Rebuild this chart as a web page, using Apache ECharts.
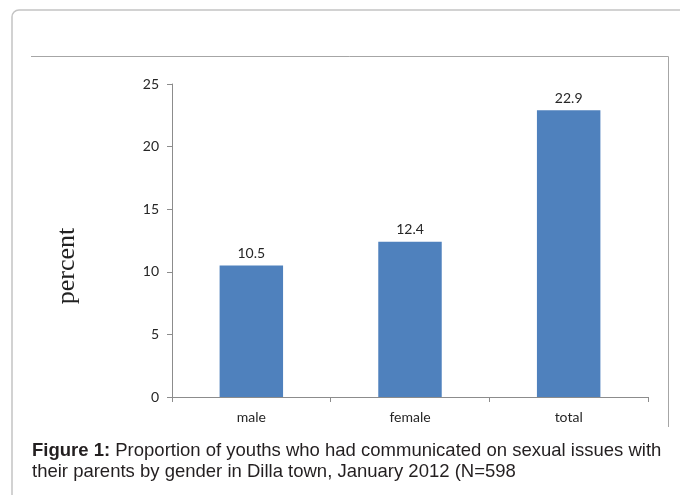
<!DOCTYPE html>
<html><head><meta charset="utf-8">
<script src="https://cdn.jsdelivr.net/npm/echarts@6/dist/echarts.min.js"></script>
<style>html,body{margin:0;padding:0;background:#fff}#c{width:680px;height:495px}</style>
</head><body><div id="c"></div>
<script>
const categories = ['male', 'female', 'total'];
const percentValues = [10.5, 12.4, 22.9];
const yTicks = [0, 5, 10, 15, 20, 25];

const chart = echarts.init(document.getElementById('c'), null, {renderer: 'canvas'});
chart.setOption({
  animation: false,
  backgroundColor: '#fff',
  grid: {left: 172, right: 32, top: 84, bottom: 98, containLabel: false},
  xAxis: {
    type: 'category', data: categories,
    axisLine: {lineStyle: {color: '#8c8c8c', width: 1}},
    axisTick: {show: true, length: 5, inside: false, lineStyle: {color: '#8c8c8c'}},
    axisLabel: {color: '#262626', fontFamily: 'Lato', fontSize: 14, margin: 13}
  },
  yAxis: {
    type: 'value', min: yTicks[0], max: yTicks[yTicks.length - 1], interval: 5,
    axisLine: {show: true, lineStyle: {color: '#8c8c8c', width: 1}},
    axisTick: {show: true, length: 5, lineStyle: {color: '#8c8c8c'}},
    splitLine: {show: false},
    axisLabel: {color: '#262626', fontFamily: 'Lato', fontSize: 14, margin: 13}
  },
  series: [{
    type: 'bar', data: percentValues, barCategoryGap: '60%',
    itemStyle: {color: '#4f81bd'},
    label: {show: true, position: 'top', distance: 5, color: '#262626', fontFamily: 'Lato', fontSize: 14,
      formatter: p => p.value.toFixed(1)}
  }],
  graphic: [
    {type: 'rect', shape: {x: 12, y: 10, width: 720, height: 540, r: 7},
     style: {fill: 'none', stroke: '#c4c4c4', lineWidth: 1.5}, silent: true},
    {type: 'polyline', shape: {points: [[31, 56.5], [668.5, 56.5], [668.5, 427]]},
     style: {fill: 'none', stroke: '#a6a6a6', lineWidth: 1}, silent: true},
    {type: 'text', x: 67, y: 266, rotation: Math.PI / 2,
     style: {text: 'percent', font: '26px "Liberation Serif", "DejaVu Serif", serif', fill: '#222',
       textAlign: 'center', textVerticalAlign: 'middle'}},
    {type: 'text', x: 32, y: 440,
     style: {
       text: '{b|Figure 1: }{n|Proportion of youths who had communicated on sexual issues with}\n{n|their parents by gender in Dilla town, January 2012 (N=598}',
       rich: {
         b: {font: 'bold 18.5px "Liberation Sans", Arial, sans-serif', fill: '#231f20', lineHeight: 21},
         n: {font: '18.5px "Liberation Sans", Arial, sans-serif', fill: '#231f20', lineHeight: 21}
       }
     }}
  ]
});
</script>
</body></html>
